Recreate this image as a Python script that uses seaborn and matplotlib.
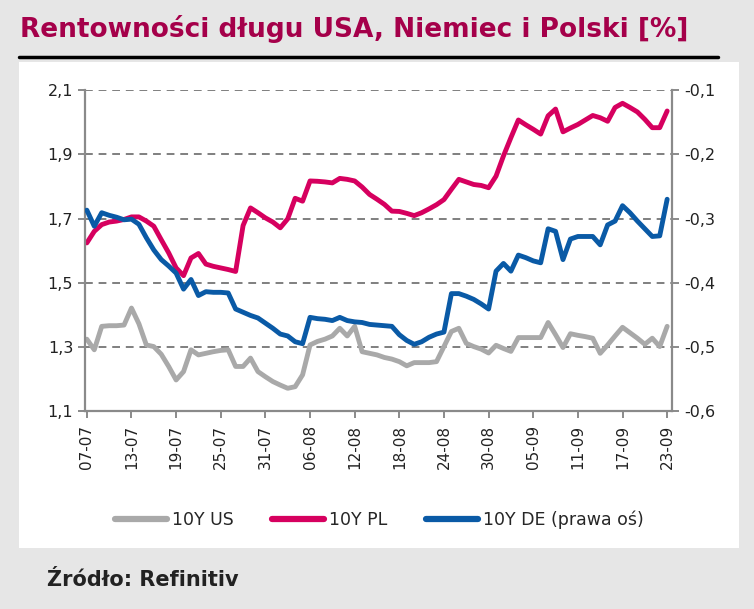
import matplotlib
matplotlib.use("Agg")
import matplotlib.pyplot as plt
import matplotlib.dates as mdates
from matplotlib.lines import Line2D
from matplotlib.patches import Rectangle
from matplotlib.ticker import FuncFormatter
import numpy as np
import pandas as pd
import seaborn as sns

# daily series (weekends carry Friday's value), 07-07 .. 23-09
dates = pd.date_range("2020-07-07", "2020-09-23", freq="D")

us_10y = [1.324, 1.291, 1.364, 1.366, 1.366, 1.368, 1.421, 1.372, 1.306, 1.301,
          1.277, 1.239, 1.197, 1.223, 1.291, 1.275, 1.280, 1.285, 1.289, 1.291,
          1.239, 1.239, 1.265, 1.223, 1.207, 1.192, 1.181, 1.171, 1.176, 1.213,
          1.306, 1.317, 1.324, 1.334, 1.358, 1.334, 1.364, 1.285, 1.280, 1.275,
          1.267, 1.262, 1.254, 1.241, 1.251, 1.251, 1.251, 1.254, 1.301, 1.348,
          1.358, 1.311, 1.301, 1.293, 1.281, 1.305, 1.295, 1.286, 1.329, 1.329,
          1.329, 1.329, 1.376, 1.338, 1.298, 1.341, 1.336, 1.332, 1.327, 1.280,
          1.306, 1.334, 1.361, 1.344, 1.327, 1.308, 1.327, 1.301, 1.364]

pl_10y = [1.624, 1.660, 1.681, 1.689, 1.692, 1.697, 1.705, 1.705, 1.692, 1.676,
          1.634, 1.593, 1.546, 1.522, 1.577, 1.591, 1.558, 1.551, 1.546, 1.541,
          1.535, 1.678, 1.733, 1.718, 1.702, 1.689, 1.671, 1.699, 1.763, 1.754,
          1.817, 1.816, 1.814, 1.811, 1.825, 1.822, 1.817, 1.798, 1.775, 1.760,
          1.744, 1.723, 1.722, 1.716, 1.709, 1.718, 1.730, 1.743, 1.759, 1.791,
          1.822, 1.814, 1.806, 1.803, 1.796, 1.832, 1.895, 1.952, 2.007, 1.992,
          1.978, 1.963, 2.020, 2.041, 1.970, 1.982, 1.993, 2.007, 2.021, 2.014,
          2.003, 2.046, 2.059, 2.046, 2.032, 2.009, 1.983, 1.983, 2.035]

de_10y = [-0.287, -0.312, -0.291, -0.295, -0.298, -0.302, -0.301, -0.309, -0.330, -0.349,
          -0.364, -0.374, -0.385, -0.410, -0.395, -0.420, -0.414, -0.415, -0.415, -0.416,
          -0.441, -0.446, -0.451, -0.455, -0.463, -0.471, -0.480, -0.483, -0.492, -0.495,
          -0.454, -0.456, -0.457, -0.459, -0.454, -0.459, -0.461, -0.462, -0.465, -0.466,
          -0.467, -0.468, -0.481, -0.490, -0.496, -0.492, -0.485, -0.480, -0.477, -0.417,
          -0.417, -0.421, -0.426, -0.433, -0.441, -0.382, -0.370, -0.382, -0.357, -0.361,
          -0.366, -0.369, -0.316, -0.320, -0.364, -0.332, -0.328, -0.328, -0.328, -0.341,
          -0.310, -0.304, -0.280, -0.291, -0.304, -0.316, -0.328, -0.327, -0.270]

labels = ["10Y US", "10Y PL", "10Y DE (prawa oś)"]
colors = ["#a9a9a9", "#d6005f", "#0a5aa6"]

left_ticks = [1.1, 1.3, 1.5, 1.7, 1.9, 2.1]
right_ticks = [-0.6, -0.5, -0.4, -0.3, -0.2, -0.1]

sns.set_theme(style="white")
plt.rcParams["font.family"] = ["DejaVu Sans"]

fig = plt.figure(figsize=(7.54, 6.09), dpi=100)
fig.patch.set_facecolor("#e6e6e6")

# white panel + title
fig.patches.append(Rectangle((0.025, 0.1), 0.955, 0.798, transform=fig.transFigure,
                             facecolor="white", edgecolor="none", zorder=-10))
fig.text(0.027, 0.952, "Rentowności długu USA, Niemiec i Polski [%]",
         color="#a5004a", fontsize=19, fontweight="bold", va="center", ha="left")
fig.add_artist(Line2D([0.025, 0.952], [0.907, 0.907], transform=fig.transFigure,
                      color="black", lw=2.5))
fig.text(0.062, 0.048, "Źródło: Refinitiv", color="#222222", fontsize=15,
         fontweight="bold", va="center", ha="left")

ax = fig.add_axes([0.1127, 0.325, 0.7787, 0.527])
ax.set_facecolor("none")
ax2 = ax.twinx()

df = pd.DataFrame({"date": dates, "us": us_10y, "pl": pl_10y, "de": de_10y})
sns.lineplot(data=df, x="date", y="us", ax=ax, color=colors[0], lw=3.5)
sns.lineplot(data=df, x="date", y="pl", ax=ax, color=colors[1], lw=3.5)
sns.lineplot(data=df, x="date", y="de", ax=ax2, color=colors[2], lw=3.5)

ax.set_ylim(1.1, 2.1)
ax2.set_ylim(-0.6, -0.1)
ax.set_yticks(left_ticks)
ax2.set_yticks(right_ticks)
comma = FuncFormatter(lambda v, p: f"{v:.1f}".replace(".", ","))
ax.yaxis.set_major_formatter(comma)
ax2.yaxis.set_major_formatter(comma)

x0 = dates[0] - pd.Timedelta(hours=6)
x1 = dates[-1] + pd.Timedelta(hours=16)
ax.set_xlim(x0, x1)
ax.set_xticks(dates[::6])
ax.xaxis.set_major_formatter(mdates.DateFormatter("%d-%m"))
ax.tick_params(axis="x", rotation=90)

ax.set_xlabel("")
ax.set_ylabel("")
ax2.set_ylabel("")

ax.yaxis.grid(True, color="#7f7f7f", linestyle=(0, (4, 3)), lw=1.4)
ax.xaxis.grid(False)

spine_col = "#8a8a8a"
for a in (ax, ax2):
    for s in a.spines.values():
        s.set_visible(False)
ax.spines["left"].set_visible(True)
ax.spines["bottom"].set_visible(True)
ax2.spines["right"].set_visible(True)
for s in (ax.spines["left"], ax.spines["bottom"], ax2.spines["right"]):
    s.set_color(spine_col)
    s.set_linewidth(1.6)

ax.tick_params(axis="both", which="major", direction="out", length=5, width=1.4,
               color=spine_col, labelsize=11.5, labelcolor="#222222",
               left=True, bottom=True)
ax2.tick_params(axis="y", direction="out", length=5, width=1.4, color=spine_col,
                labelsize=11.5, labelcolor="#222222", right=True)
ax.tick_params(axis="x", labelsize=11, pad=5)

handles = [Line2D([], [], color=c, lw=4.5, solid_capstyle="round") for c in colors]
fig.legend(handles, labels, loc="center", bbox_to_anchor=(0.503, 0.146), ncol=3,
           frameon=False, fontsize=12.5, handlelength=3.0, handletextpad=0.3,
           columnspacing=2.2)

fig.savefig("out.png", dpi=100, facecolor=fig.get_facecolor())
